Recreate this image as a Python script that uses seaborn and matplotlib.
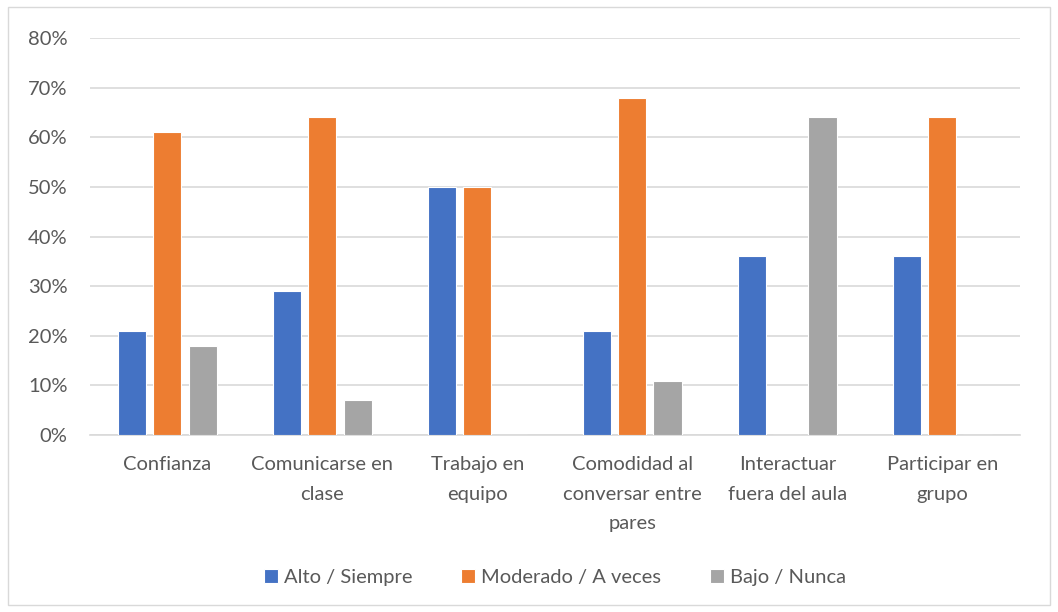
import matplotlib.pyplot as plt
import seaborn as sns
import pandas as pd
from matplotlib.patches import Rectangle
from matplotlib.ticker import PercentFormatter

categorias = ["Confianza", "Comunicarse en\nclase", "Trabajo en\nequipo",
              "Comodidad al\nconversar entre\npares", "Interactuar\nfuera del aula",
              "Participar en\ngrupo"]
alto = [0.21, 0.29, 0.50, 0.21, 0.36, 0.36]
moderado = [0.61, 0.64, 0.50, 0.68, 0.00, 0.64]
bajo = [0.18, 0.07, 0.00, 0.11, 0.64, 0.00]
series = ["Alto / Siempre", "Moderado / A veces", "Bajo / Nunca"]
colores = ["#4472C4", "#ED7D31", "#A5A5A5"]

# tabla larga para seaborn
df = pd.DataFrame({
    "categoria": categorias * 3,
    "serie": [series[0]] * 6 + [series[1]] * 6 + [series[2]] * 6,
    "valor": alto + moderado + bajo,
})

sns.set_style("white")
plt.rcParams["font.family"] = ["Lato", "DejaVu Sans"]

fig = plt.figure(figsize=(10.58, 6.12), dpi=100)
ax = fig.add_axes([0.085, 0.289, 0.879, 0.649])

sns.barplot(data=df, x="categoria", y="valor", hue="serie", palette=colores,
            saturation=1, width=0.68, gap=0.2, edgecolor="white", linewidth=0.8,
            ax=ax, zorder=3)

ax.set_ylim(0, 0.8)
ax.set_yticks([i / 10 for i in range(9)])
ax.yaxis.set_major_formatter(PercentFormatter(1.0, decimals=0))
ax.grid(axis="y", color="#D9D9D9", linewidth=1.2, zorder=0)
ax.set_xlabel("")
ax.set_ylabel("")
for s in ["top", "right", "left"]:
    ax.spines[s].set_visible(False)
ax.spines["bottom"].set_color("#D9D9D9")
ax.spines["bottom"].set_linewidth(1.2)
ax.tick_params(axis="both", length=0, labelsize=14.5, colors="#595959")
ax.tick_params(axis="y", pad=16)
ax.tick_params(axis="x", pad=15)
for lbl in ax.get_xticklabels():
    lbl.set_linespacing(1.9)

ax.legend(loc="upper center", bbox_to_anchor=(0.5, -0.292), ncol=3, frameon=False,
          fontsize=14.5, labelcolor="#595959", handlelength=0.7, handleheight=0.7,
          handletextpad=0.3, columnspacing=2.4)

fig.patches.append(Rectangle((8 / 1058, 7 / 612), 1042 / 1058, 598 / 612,
                             transform=fig.transFigure, fill=False,
                             edgecolor="#D9D9D9", linewidth=1))

plt.savefig("out.png", dpi=100)
plt.close()
